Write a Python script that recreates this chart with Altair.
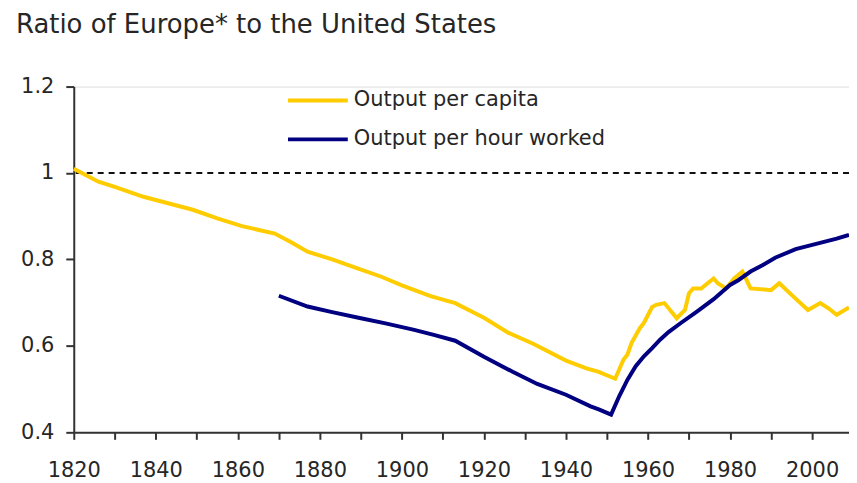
import altair as alt
import pandas as pd

# Output per capita (Europe / US)
pc_years = [1820, 1826, 1830, 1837, 1843, 1849, 1855, 1861, 1869, 1873, 1877, 1883,
            1889, 1895, 1900, 1907, 1913, 1920, 1926, 1932, 1940, 1945, 1948, 1952,
            1954, 1955, 1956, 1958, 1959, 1961, 1962, 1964, 1967, 1969, 1970, 1971,
            1973, 1974, 1976, 1977, 1979, 1981, 1983, 1984, 1985, 1990, 1992, 1995,
            1999, 2002, 2004, 2006, 2009]
pc_vals = [1.010, 0.980, 0.968, 0.945, 0.930, 0.915, 0.895, 0.877, 0.860, 0.840, 0.818, 0.800,
           0.780, 0.760, 0.740, 0.715, 0.699, 0.665, 0.630, 0.605, 0.566, 0.548, 0.540, 0.524,
           0.568, 0.580, 0.607, 0.641, 0.653, 0.690, 0.695, 0.699, 0.664, 0.683, 0.722, 0.733,
           0.733, 0.741, 0.756, 0.745, 0.733, 0.756, 0.772, 0.753, 0.733, 0.729, 0.745, 0.718,
           0.683, 0.699, 0.687, 0.672, 0.689]

# Output per hour worked (Europe / US)
ph_years = [1870, 1877, 1883, 1890, 1896, 1903, 1908, 1913, 1920, 1927, 1933, 1940,
            1946, 1948, 1951, 1953, 1955, 1957, 1959, 1961, 1963, 1965, 1968, 1972,
            1976, 1980, 1982, 1985, 1988, 1991, 1996, 2001, 2006, 2009]
ph_vals = [0.716, 0.691, 0.678, 0.664, 0.652, 0.637, 0.625, 0.612, 0.575, 0.540, 0.512, 0.487,
           0.460, 0.453, 0.441, 0.484, 0.522, 0.553, 0.576, 0.595, 0.615, 0.632, 0.653, 0.680,
           0.708, 0.741, 0.752, 0.772, 0.787, 0.804, 0.824, 0.836, 0.848, 0.857]

series_names = ["Output per capita", "Output per hour worked"]
series_colors = ["#FFCC00", "#000080"]
x_ticks = list(range(1820, 2001, 10))
y_ticks = [0.4, 0.6, 0.8, 1.0, 1.2]
reference_level = [1.0]

df = pd.concat([
    pd.DataFrame({"year": pc_years, "value": pc_vals, "series": series_names[0]}),
    pd.DataFrame({"year": ph_years, "value": ph_vals, "series": series_names[1]}),
])
ref_df = pd.DataFrame({"level": reference_level})

FONT = "DejaVu Sans"
TXT = "#262626"

x_scale = alt.Scale(domain=[1820, 2009], nice=False, zero=False)
y_scale = alt.Scale(domain=[0.4, 1.2], nice=False, zero=False)

lines = alt.Chart(df).mark_line(strokeWidth=4, interpolate="linear").encode(
    x=alt.X("year:Q", scale=x_scale,
            axis=alt.Axis(values=x_ticks, labelExpr="datum.value % 20 == 0 ? datum.label : ''",
                          format="d", title=None, grid=False, domainColor="#333333",
                          domainWidth=2, tickColor="#333333", tickWidth=2, tickSize=7,
                          labelPadding=20, labelFontSize=21, labelFont=FONT,
                          labelColor=TXT, labelFlush=False, labelOverlap=False)),
    y=alt.Y("value:Q", scale=y_scale,
            axis=alt.Axis(values=y_ticks, format=".1~f", title=None, grid=False,
                          domainColor="#333333", domainWidth=2, tickColor="#333333",
                          tickWidth=2, tickSize=8, labelPadding=12, labelFontSize=21,
                          labelFont=FONT, labelColor=TXT, labelFlush=False)),
    color=alt.Color("series:N",
                    scale=alt.Scale(domain=series_names, range=series_colors),
                    legend=alt.Legend(title=None, orient="none", legendX=228, legendY=-3,
                                      symbolType="M-2,0H2", symbolSize=900,
                                      symbolStrokeWidth=4, labelFontSize=21, labelFont=FONT,
                                      labelColor=TXT, labelOffset=19, rowPadding=12,
                                      labelLimit=0, padding=0, direction="vertical")),
    order="year:Q",
)

ref = alt.Chart(ref_df).mark_rule(color="#111111", strokeWidth=1.8, strokeDash=[6, 5]).encode(
    y=alt.Y("level:Q", scale=y_scale)
)

chart = alt.layer(ref, lines).properties(
    width=778, height=347,
    title=alt.TitleParams("Ratio of Europe* to the United States", anchor="start",
                          frame="group", font=FONT, fontSize=26, fontWeight="normal",
                          color=TXT, dx=-58, offset=17, baseline="alphabetic"),
    autosize=alt.AutoSizeParams(type="none"),
    padding={"left": 66, "top": 78, "right": 0, "bottom": 49},
).configure_view(stroke=None).configure(background="white")

chart.save("out.html", embed_options={"renderer": "svg", "actions": False})
